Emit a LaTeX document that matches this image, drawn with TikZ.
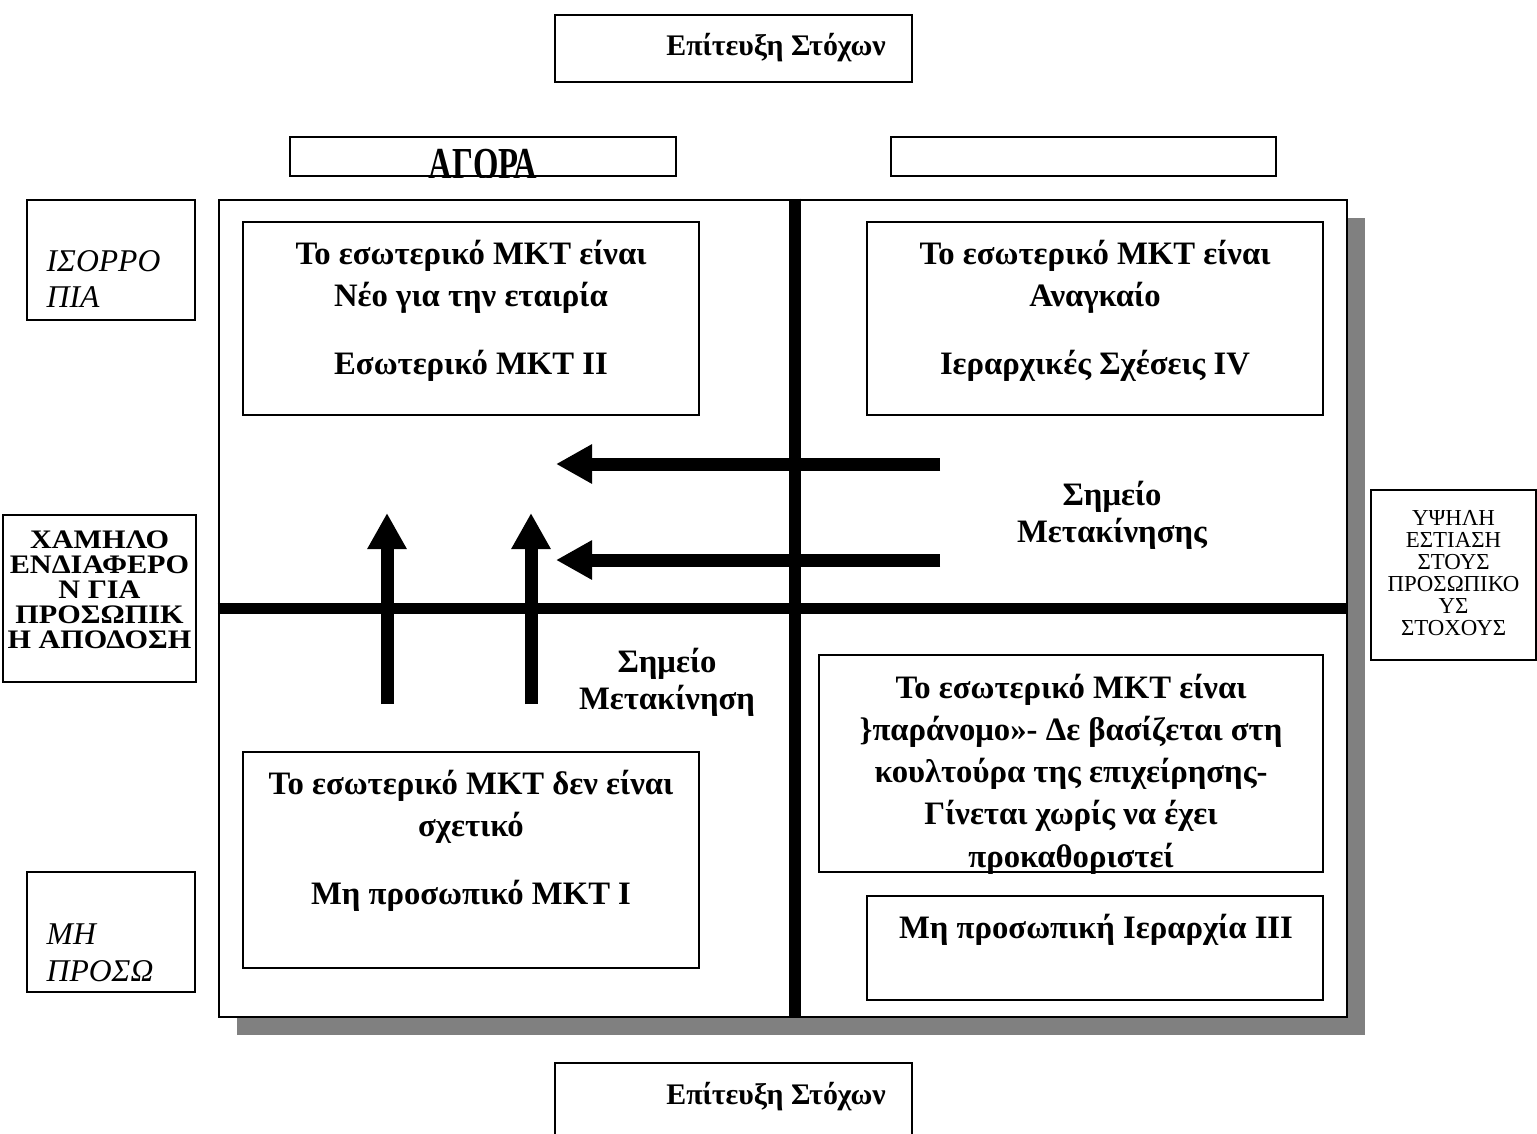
\documentclass[tikz,border=0pt]{standalone}
\usepackage{fontspec}
\setmainfont{Liberation Serif}
\newfontfamily\widecaps[FakeStretch=1.13]{Liberation Serif}
\usetikzlibrary{arrows.meta, positioning, calc, shadows}
\definecolor{gridInk}{HTML}{000000}
\definecolor{gridShadow}{HTML}{808080}
\tikzset{
    panel/.style={rectangle, draw=gridInk, line width=0.6pt, fill=white, inner sep=0pt},
    mainsquare/.style={panel, minimum width=11.28cm, minimum height=8.17cm, drop shadow={shadow xshift=0.18cm, shadow yshift=-0.18cm, fill=gridShadow, opacity=1}},
    quadtext/.style={align=center, font=\fontsize{9.3}{12}\selectfont\bfseries, inner sep=0pt},
    movetext/.style={align=center, font=\fontsize{9.3}{10.5}\selectfont\bfseries, inner sep=0pt},
    goaltext/.style={align=center, font=\fontsize{8.5}{11}\selectfont\bfseries, inner sep=0pt},
    sidecaps/.style={align=center, font=\widecaps\fontsize{7.6}{7.1}\selectfont\bfseries, inner sep=0pt},
    sideitalic/.style={align=left, anchor=west, font=\fontsize{9}{10.5}\selectfont\itshape, inner sep=0pt},
    sideplain/.style={align=center, font=\fontsize{6.5}{6.3}\selectfont, inner sep=0pt},
    axisline/.style={line width=0.115cm, draw=gridInk},
    movearrow/.style={-{Triangle[length=0.36cm, width=0.37cm]}, line width=0.13cm, draw=gridInk},
}

\begin{document}
\begin{tikzpicture}[x=0.01cm, y=-0.01cm]
    \clip (0,0) rectangle (1537,1133);

    % outer frame and the two axes
    \node[mainsquare] (grid) at (783,608.5) {};
    \coordinate (split) at (795,608);
    \draw[axisline] (split |- grid.north) -- (split |- grid.south);
    \draw[axisline] (grid.west) -- (grid.east);

    % headings above and below
    \node[panel, minimum width=3.57cm, minimum height=0.67cm] (topgoal) at (733.5,48.5) {};
    \node[goaltext] at (776,48) {Επίτευξη Στόχων};
    \node[panel, minimum width=3.57cm, minimum height=0.82cm] (bottomgoal) at (733.5,1104) {};
    \node[goaltext] at (776,1097) {Επίτευξη Στόχων};
    \node[panel, minimum width=3.86cm, minimum height=0.39cm] (market) at (483,156.5) {};
    \begin{scope}
        \clip (market.south west) rectangle (market.north east);
        \node[quadtext, anchor=base] at (483,179) {\scalebox{1}[1.4]{ΑΓΟΡΑ}};
    \end{scope}
    \node[panel, minimum width=3.85cm, minimum height=0.39cm] (blank) at (1083.5,156.5) {};

    % side labels
    \node[panel, minimum width=1.68cm, minimum height=1.20cm] (balance) at (111,260) {};
    \node[sideitalic] at (46,279) {ΙΣΟΡΡΟ\\ΠΙΑ};
    \node[panel, minimum width=1.93cm, minimum height=1.67cm] (lowinterest) at (99.5,598.5) {};
    \node[sidecaps] at (99.5,590) {ΧΑΜΗΛΟ\\ΕΝΔΙΑΦΕΡΟ\\Ν ΓΙΑ\\ΠΡΟΣΩΠΙΚ\\Η ΑΠΟΔΟΣΗ};
    \node[panel, minimum width=1.68cm, minimum height=1.20cm] (impersonal) at (111,932) {};
    \node[sideitalic] at (46,953) {ΜΗ\\ΠΡΟΣΩ};
    \node[panel, minimum width=1.65cm, minimum height=1.70cm] (highfocus) at (1453.5,575) {};
    \node[sideplain] at (1453.5,573) {ΥΨΗΛΗ\\ΕΣΤΙΑΣΗ\\ΣΤΟΥΣ\\ΠΡΟΣΩΠΙΚΟ\\ΥΣ\\ΣΤΟΧΟΥΣ};

    % quadrant boxes
    \node[panel, minimum width=4.56cm, minimum height=1.93cm] (quadII) at (471,318.5) {};
    \node[quadtext] at (471,311) {Το εσωτερικό ΜΚΤ είναι\\Νέο για την εταιρία\\[0.26cm]Εσωτερικό ΜΚΤ ΙΙ};
    \node[panel, minimum width=4.56cm, minimum height=1.93cm] (quadIV) at (1095,318.5) {};
    \node[quadtext] at (1095,311) {Το εσωτερικό ΜΚΤ είναι\\Αναγκαίο\\[0.26cm]Ιεραρχικές Σχέσεις ΙV};
    \node[panel, minimum width=4.56cm, minimum height=2.16cm] (quadI) at (471,860) {};
    \node[quadtext] at (471,841) {Το εσωτερικό ΜΚΤ δεν είναι\\σχετικό\\[0.26cm]Μη προσωπικό ΜΚΤ Ι};
    \node[panel, minimum width=5.04cm, minimum height=2.17cm] (quadIIIa) at (1071,763.5) {};
    \node[quadtext] at (1071,774) {Το εσωτερικό ΜΚΤ είναι\\\}παράνομο»- Δε βασίζεται στη\\κουλτούρα της επιχείρησης-\\Γίνεται χωρίς να έχει\\προκαθοριστεί};
    \node[panel, minimum width=4.56cm, minimum height=1.04cm] (quadIIIb) at (1095,948) {};
    \node[quadtext] at (1096,930) {Μη προσωπική Ιεραρχία ΙΙΙ};

    % movement labels
    \node[movetext] (moveright) at (1112,515) {Σημείο\\Μετακίνησης};
    \node[movetext] (moveleft) at (667,682) {Σημείο\\Μετακίνηση};

    % movement arrows
    \coordinate (hA) at (940,464);
    \coordinate (hAtip) at (556,464);
    \coordinate (hB) at (940,560);
    \coordinate (hBtip) at (556,560);
    \coordinate (vA) at (387,704);
    \coordinate (vAtip) at (387,513);
    \coordinate (vB) at (531,704);
    \coordinate (vBtip) at (531,513);
    \draw[movearrow] (hA) -- (hAtip);
    \draw[movearrow] (hB) -- (hBtip);
    \draw[movearrow] (vA) -- (vAtip);
    \draw[movearrow] (vB) -- (vBtip);
\end{tikzpicture}
\end{document}
